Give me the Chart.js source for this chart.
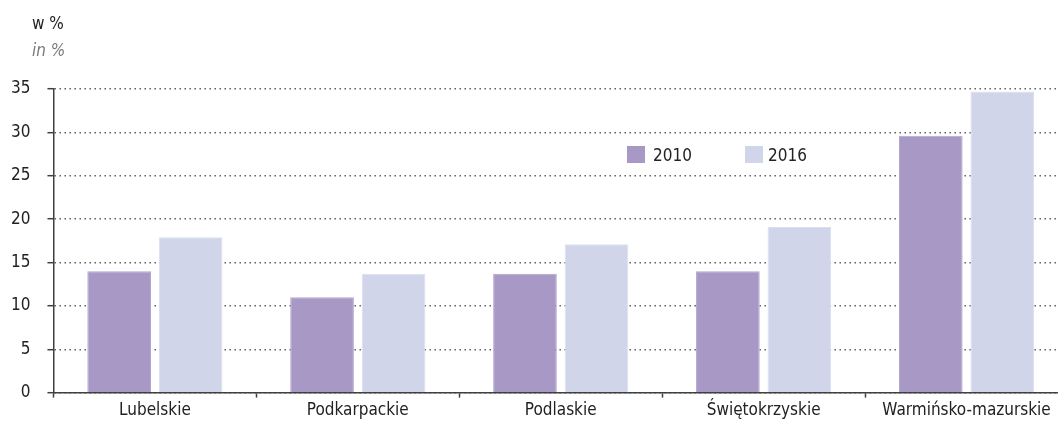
<!DOCTYPE html>
<html>
<head>
<meta charset="utf-8">
<script src="https://cdn.jsdelivr.net/npm/chart.js@4/dist/chart.umd.min.js"></script>
<style>
  html, body { margin: 0; padding: 0; background: #fff; }
  #wrap { position: relative; width: 1058px; height: 423px; overflow: hidden; }
  #c { position: absolute; left: -6px; top: 0; }
  .t { position: absolute; font-family: "DejaVu Sans Condensed", sans-serif; white-space: nowrap; }
  #unit1 { left: 32px; top: 13px; font-size: 17px; color: #222; }
  #unit2 { left: 32px; top: 40px; font-size: 17px; color: #7a7a7a; font-style: italic; }
  .lg { position: absolute; font-family: "DejaVu Sans Condensed", sans-serif; font-size: 17px; color: #222; line-height: 20px; }
  .sw { position: absolute; width: 18px; height: 17px; }
</style>
</head>
<body>
<div id="wrap">
  <canvas id="c" width="1078" height="430"></canvas>
  <div class="t" id="unit1">w %</div>
  <div class="t" id="unit2">in %</div>
  <div id="legend"></div>
</div>
<script>
const categories = ["Lubelskie", "Podkarpackie", "Podlaskie", "Świętokrzyskie", "Warmińsko-mazurskie"];
const seriesNames = ["2010", "2016"];
const values2010 = [14.0, 11.0, 13.7, 14.0, 29.6];
const values2016 = [17.9, 13.7, 17.1, 19.1, 34.7];
const yTicks = [0, 5, 10, 15, 20, 25, 30, 35];
const colors = ["#a898c6", "#d0d5ea"];
const edgeColors = ["#b3a5cf", "#dadef0"];

const FONT = '"DejaVu Sans Condensed", sans-serif';

// HTML legend
const legendPos = [{x: 627, tx: 653}, {x: 745, tx: 768}];
const lg = document.getElementById('legend');
seriesNames.forEach((n, i) => {
  const sw = document.createElement('div');
  sw.className = 'sw';
  sw.style.left = legendPos[i].x + 'px';
  sw.style.top = '146px';
  sw.style.background = colors[i];
  lg.appendChild(sw);
  const tx = document.createElement('div');
  tx.className = 'lg';
  tx.style.left = legendPos[i].tx + 'px';
  tx.style.top = '145px';
  tx.textContent = n;
  lg.appendChild(tx);
});

new Chart(document.getElementById('c'), {
  type: 'bar',
  data: {
    labels: categories,
    datasets: [
      { label: seriesNames[0], data: values2010, backgroundColor: colors[0], borderColor: edgeColors[0], borderWidth: 1 },
      { label: seriesNames[1], data: values2016, backgroundColor: colors[1], borderColor: edgeColors[1], borderWidth: 1 }
    ]
  },
  options: {
    responsive: false,
    animation: false,
    devicePixelRatio: 1,
    layout: { padding: { top: 89, left: 0, right: 4, bottom: 6 } },
    datasets: { bar: { barPercentage: 0.89, categoryPercentage: 0.705 } },
    plugins: { legend: { display: false }, tooltip: { enabled: false } },
    scales: {
      x: {
        grid: { display: true, drawOnChartArea: false, drawTicks: true, tickLength: 5, tickColor: '#404040', tickWidth: 1.5, offset: true },
        border: { display: true, color: '#404040', width: 1.5 },
        ticks: { color: '#222', font: { family: FONT, size: 17 }, padding: 3, maxRotation: 0, autoSkip: false }
      },
      y: {
        min: 0, max: 35,
        afterBuildTicks: (s) => { s.ticks = yTicks.map(v => ({ value: v })); },
        grid: { color: '#555', lineWidth: 1.4, drawTicks: true, tickLength: 6, tickColor: '#404040', tickWidth: 1.5 },
        border: { display: true, color: '#404040', width: 1.5, dash: [1.4, 3.6] },
        ticks: { color: '#222', font: { family: FONT, size: 17 }, padding: 17 }
      }
    }
  }
});
</script>
</body>
</html>
